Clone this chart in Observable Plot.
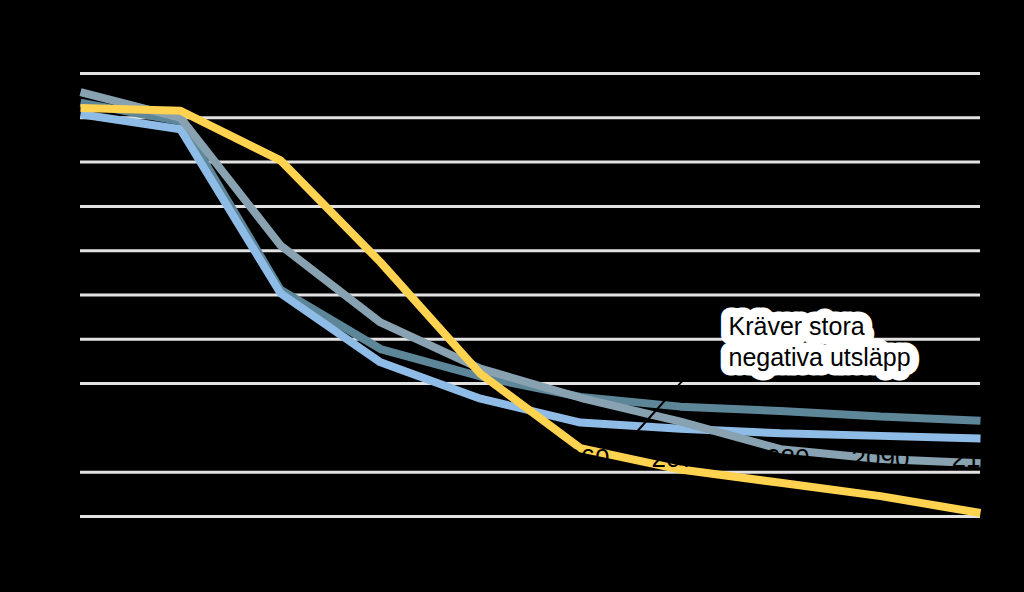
<!DOCTYPE html>
<html>
<head>
<meta charset="utf-8">
<script src="https://cdn.jsdelivr.net/npm/d3@7"></script>
<script src="https://cdn.jsdelivr.net/npm/@observablehq/plot@0.6"></script>
<style>
  html, body { margin: 0; padding: 0; background: #000; }
  #chart { width: 1024px; height: 592px; }
</style>
</head>
<body>
<div id="chart"></div>
<script>
const years = [2010, 2020, 2030, 2040, 2050, 2060, 2070, 2080, 2090, 2100];
const darkTeal  = [36.7, 34.6, 15.6, 8.9, 5.8, 3.5, 2.4, 1.9, 1.3, 0.8];
const lightBlue = [35.4, 33.7, 15.2, 7.4, 3.3, 0.6, -0.1, -0.6, -0.9, -1.2];
const lightGray = [37.9, 35.0, 20.6, 11.9, 6.7, 3.4, 0.7, -2.4, -3.5, -4.0];
const yellow    = [36.1, 35.8, 30.2, 18.7, 6.1, -2.3, -4.7, -6.2, -7.7, -9.6];
const yTicks = [-10, -5, 0, 5, 10, 15, 20, 25, 30, 35, 40];
const annotationLines = ["Kräver stora", "negativa utsläpp"];

const toRows = (vals) => years.map((y, i) => ({year: y, value: vals[i]}));
const series = [
  {name: "darkTeal", color: "#5d8699", rows: toRows(darkTeal)},
  {name: "lightBlue", color: "#8fbce6", rows: toRows(lightBlue)},
  {name: "lightGray", color: "#88a2b1", rows: toRows(lightGray)},
  {name: "yellow", color: "#ffd24f", rows: toRows(yellow)}
];

const plot = Plot.plot({
  width: 1024,
  height: 592,
  marginLeft: 80,
  marginRight: 44,
  marginTop: 73,
  marginBottom: 76,
  style: {background: "#000", fontFamily: "'Liberation Sans', Arial, sans-serif"},
  x: {domain: [2010, 2100], axis: null},
  y: {domain: [-10, 40], axis: null},
  marks: [
    Plot.ruleY(yTicks.filter(d => d !== 0), {stroke: "#e2e2e2", strokeWidth: 3}),
    Plot.ruleY([0], {stroke: "#000", strokeWidth: 2}),
    ...series.map(s => Plot.line(s.rows, {
      x: "year", y: "value", stroke: s.color, strokeWidth: 8,
      strokeLinejoin: "miter", strokeLinecap: "butt"
    })),
    Plot.text(years, {
      x: d => d, y: 0, text: d => String(d), dy: 31,
      fill: "#000", fontSize: 26, lineAnchor: "middle"
    }),
    Plot.text(yTicks, {
      x: 2010, y: d => d, text: d => String(d), dx: -40,
      textAnchor: "end", fill: "#000", fontSize: 18
    }),
    Plot.link([{x1: 2070.5, y1: 5.7, x2: 2065.5, y2: -0.6}], {
      x1: "x1", y1: "y1", x2: "x2", y2: "y2", stroke: "#000", strokeWidth: 2
    }),
    Plot.text([annotationLines.join("\n")], {
      x: 2074.8, y: 12.9, text: d => d,
      textAnchor: "start", lineAnchor: "top", lineHeight: 1.22,
      fontSize: 25, fill: "#000",
      stroke: "#fff", strokeWidth: 19, strokeLinejoin: "round", paintOrder: "stroke"
    })
  ]
});
document.getElementById("chart").appendChild(plot);
</script>
</body>
</html>
